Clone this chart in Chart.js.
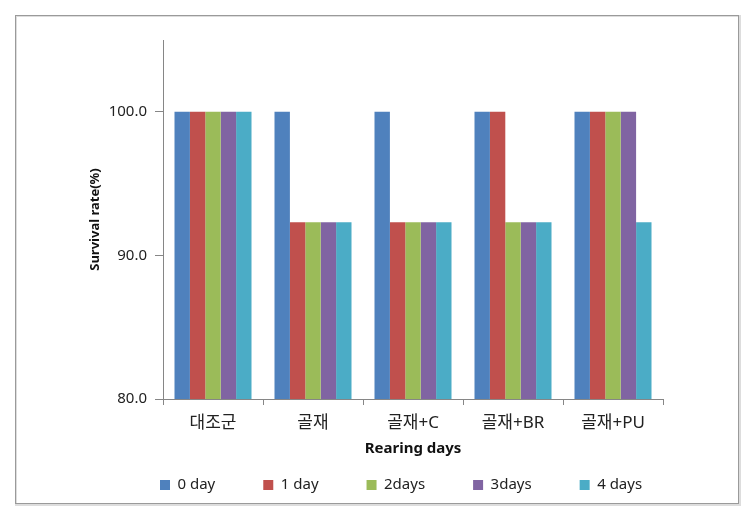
<!DOCTYPE html>
<html>
<head>
<meta charset="utf-8">
<script src="https://cdn.jsdelivr.net/npm/chart.js@4"></script>
<style>
  html, body { margin: 0; padding: 0; background: #fff; }
  #wrap { position: relative; width: 752px; height: 513px; }
</style>
</head>
<body>
<div id="wrap"><canvas id="c" width="752" height="513"></canvas></div>
<script>
const categories = ['대조군', '골재', '골재+C', '골재+BR', '골재+PU'];
const seriesLabels = ['0 day', '1 day', '2days', '3days', '4 days'];
const day0 = [100, 100, 100, 100, 100];
const day1 = [100, 92.3, 92.3, 100, 100];
const day2 = [100, 92.3, 92.3, 92.3, 100];
const day3 = [100, 92.3, 92.3, 92.3, 100];
const day4 = [100, 92.3, 92.3, 92.3, 92.3];
const yTicks = [80, 90, 100];
const seriesColors = ['#4F81BD', '#C0504D', '#9BBB59', '#8064A2', '#4BACC6'];

const FONT = "'Noto Sans', 'Noto Sans CJK KR', sans-serif";
Chart.defaults.font.family = FONT;
Chart.defaults.color = '#222';

const LEGEND_PAD = 48;

const frame = {
  id: 'frame',
  beforeDraw(chart) {
    const ctx = chart.ctx;
    ctx.save();
    ctx.fillStyle = '#fff';
    ctx.fillRect(0, 0, chart.width, chart.height);
    ctx.strokeStyle = '#DDDDDD';
    ctx.lineWidth = 2;
    ctx.strokeRect(16, 16, 724, 489);
    ctx.strokeStyle = '#9A9A9A';
    ctx.lineWidth = 1;
    ctx.strokeRect(15.5, 15.5, 723, 488);
    ctx.restore();
  },
  afterLayout(chart) {
    const lg = chart.legend;
    if (!lg) return;
    const pad = lg.options.labels.padding;
    lg.left = 160 - pad;
    lg.right = 740;
    lg.width = lg.right - lg.left;
    lg.top = 485 - 7.5 - pad;
    lg.height = pad + 24;
    lg.bottom = lg.top + lg.height;
  }
};

const dataSets = [day0, day1, day2, day3, day4].map((d, i) => ({
  label: seriesLabels[i],
  data: d,
  backgroundColor: seriesColors[i],
  borderWidth: 0,
  categoryPercentage: 0.77,
  barPercentage: 1.0
}));

new Chart(document.getElementById('c'), {
  type: 'bar',
  data: { labels: categories, datasets: dataSets },
  plugins: [frame],
  options: {
    responsive: false,
    animation: false,
    devicePixelRatio: 1,
    layout: { padding: { left: 0, right: 89, top: 40, bottom: 34 } },
    plugins: {
      tooltip: { enabled: false },
      legend: {
        position: 'bottom',
        align: 'start',
        maxHeight: 20,
        labels: {
          boxWidth: 10,
          boxHeight: 10,
          padding: LEGEND_PAD,
          color: '#222',
          font: { size: 15, family: FONT }
        }
      }
    },
    scales: {
      x: {
        afterFit: s => { s.height = 60; },
        ticks: { color: '#222', font: { size: 17, family: FONT }, padding: 8, maxRotation: 0 },
        grid: { display: true, drawOnChartArea: false, tickLength: 6, color: '#868686', offset: true },
        border: { color: '#868686', width: 1 },
        title: {
          display: true, text: 'Rearing days', color: '#111',
          font: { size: 15, weight: 'bold', family: FONT },
          padding: { top: 0, bottom: 1 }
        }
      },
      y: {
        min: 80,
        max: 105,
        afterBuildTicks: s => { s.ticks = yTicks.map(v => ({ value: v })); },
        afterFit: s => { s.width = 163; },
        ticks: { color: '#222', font: { size: 15, family: FONT }, padding: 8, callback: v => Number(v).toFixed(1) },
        grid: { display: true, drawOnChartArea: false, tickLength: 8, color: '#868686' },
        border: { color: '#868686', width: 1 },
        title: {
          display: true, text: 'Survival rate(%)', color: '#111',
          font: { size: 13, weight: 'bold', family: FONT },
          padding: { top: 87, bottom: 0 }
        }
      }
    }
  }
});
</script>
</body>
</html>
